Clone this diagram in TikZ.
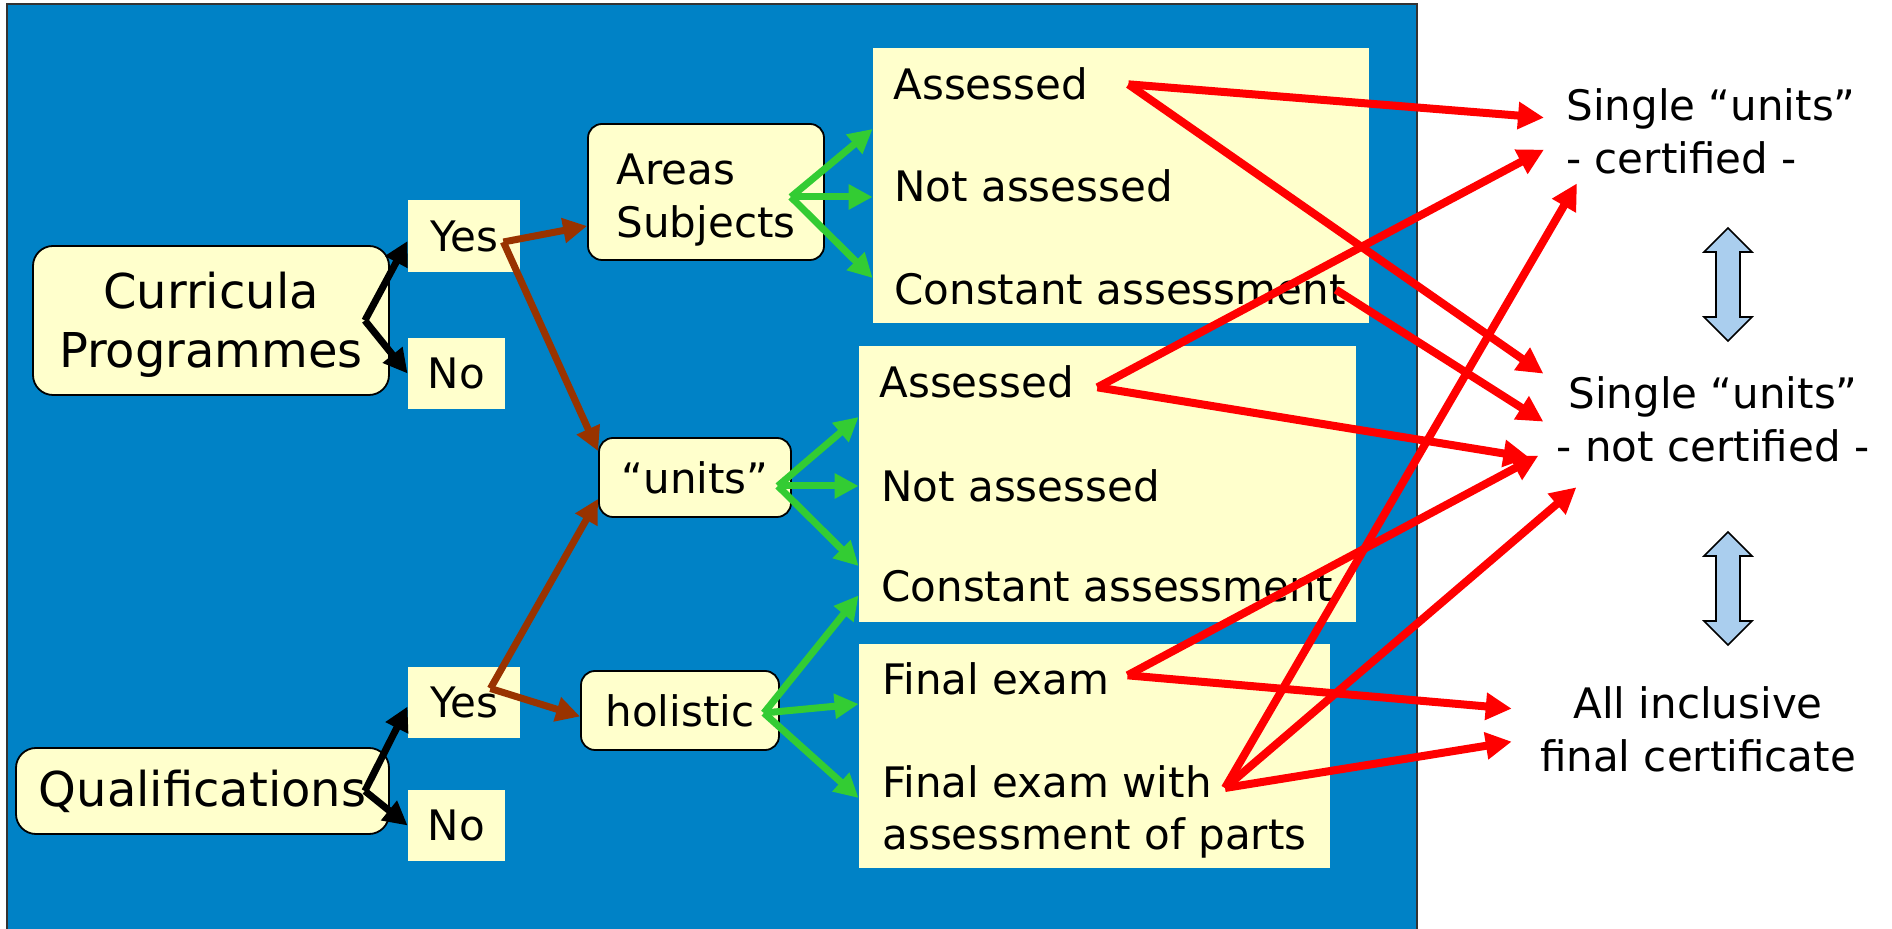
\documentclass[tikz,border=0pt]{standalone}
\usepackage{fontspec}
\setmainfont{DejaVu Sans}
\usepackage{tikz}
\usetikzlibrary{arrows.meta}
\definecolor{bgblue}{RGB}{0,130,198}
\definecolor{paleyellow}{RGB}{255,255,204}
\definecolor{arrgreen}{RGB}{51,204,51}
\definecolor{arrbrown}{RGB}{153,51,0}
\definecolor{arrblue}{RGB}{170,206,238}
\tikzstyle{line} = [draw, line width=3.5pt, -{Triangle[length=12pt,width=12pt]}]
\tikzstyle{redline} = [draw=red, line width=4pt, -{Triangle[length=13pt,width=13pt]}]
\tikzstyle{rbox} = [draw, rounded corners=7pt, fill=paleyellow, line width=0.9pt, inner sep=0pt, font=\fontsize{21}{26.5}\selectfont]
\tikzstyle{ans} = [fill=paleyellow, inner sep=0pt, minimum height=35.5pt, font=\fontsize{21}{26.5}\selectfont]
\tikzstyle{panel} = [fill=paleyellow, inner sep=0pt]
\tikzstyle{item} = [inner sep=0pt, anchor=base west, font=\fontsize{21}{26}\selectfont]
\tikzstyle{result} = [inner sep=0pt, font=\fontsize{21}{26.5}\selectfont]
\tikzstyle{dblarrow} = [draw, fill=arrblue, line width=0.8pt]

\begin{document}
\begin{tikzpicture}[x=0.5pt, y=-0.5pt]
	\useasboundingbox (0,0) rectangle (1892,929);
	% blue background
	\fill [bgblue] (7,4) rectangle (1417,929);
	\draw [black!80, line width=1pt] (7,929) -- (7,4) -- (1417,4) -- (1417,929);
	
	\node [rbox, rounded corners=10pt, minimum width=178pt, minimum height=74.5pt, align=center, font=\fontsize{24}{29.5}\selectfont] (curr) at (211,320.5) {\rule{0pt}{22pt}Curricula\\Programmes};
	\node [rbox, rounded corners=10pt, minimum width=186.5pt, minimum height=43pt, font=\fontsize{24}{28.5}\selectfont] (qual) at (202.5,791) {Qualifications};
	
	\node [ans, minimum width=56pt, minimum height=36pt] (yes1) at (464,236) {Yes};
	\node [ans, below of=yes1, node distance=68.75pt, xshift=-3.75pt, minimum width=48.5pt] (no1) {No};
	\node [ans, minimum width=56pt] (yes2) at (464,702.5) {Yes};
	\node [ans, below of=yes2, node distance=61.5pt, xshift=-3.75pt, minimum width=48.5pt] (no2) {No};
	
	\node [rbox, minimum width=118pt, minimum height=68pt, align=left] (areas) at (706,192) {\rule{0pt}{23pt}Areas\\Subjects};
	\node [rbox, minimum width=96pt, minimum height=39.5pt] (units) at (695,477.5) {“units”};
	\node [rbox, minimum width=99pt, minimum height=39.5pt] (holis) at (680,710.5) {holistic};
	
	% assessment panels
	\node [panel, minimum width=248pt, minimum height=137.5pt] (boxA) at (1121,185.5) {};
	\node [panel, minimum width=248.5pt, minimum height=138pt] (boxB) at (1107.5,484) {};
	\node [panel, minimum width=235.5pt, minimum height=112pt] (boxC) at (1094.5,756) {};
	
	\node [item] (a1) at (893,100) {Assessed};
	\node [item] (a2) at (894,202) {Not assessed};
	\node [item] (a3) at (894,305) {Constant assessment};
	\node [item] (b1) at (879,398) {Assessed};
	\node [item] (b2) at (881,502) {Not assessed};
	\node [item] (b3) at (881,602) {Constant assessment};
	\node [item] (c1) at (882,695) {Final exam};
	\node [item, anchor=north west, align=left] (c2) at (882,765) {Final exam with\\assessment of parts};
	
	\node [result, align=left, anchor=north west] (cert) at (1566,88) {Single “units”\\- certified -};
	\node [result, align=center, anchor=north] (ncert) at (1713,376) {Single “units”\\- not certified -};
	\node [result, align=center, anchor=north] (allinc) at (1698,686) {All inclusive\\final certificate};
	
	% yes / no
	\path [line] ([xshift=-12.5pt]curr.east) -- ([yshift=-2.5pt]yes1.west);
	\path [line] ([xshift=-12.5pt]curr.east) -- (no1.west);
	\path [line] ([xshift=-12.5pt]qual.east) -- ([yshift=-2pt]yes2.west);
	\path [line] ([xshift=-12.5pt]qual.east) -- (no2.west);
	
	\path [line, draw=arrbrown] ([xshift=-8.5pt,yshift=-3pt]yes1.east) -- ([yshift=-17pt]areas.west);
	\path [line, draw=arrbrown] ([xshift=-8.5pt,yshift=-3pt]yes1.east) -- ([yshift=-7pt]units.north west);
	\path [line, draw=arrbrown] ([xshift=-15pt,yshift=7pt]yes2.east) -- ([yshift=9.5pt]units.south west);
	\path [line, draw=arrbrown] ([xshift=-15pt,yshift=7pt]yes2.east) -- ([yshift=-3pt]holis.west);
	
	\path [line, draw=arrgreen] ([xshift=-17pt,yshift=-2.5pt]areas.east) -- ([yshift=28.25pt]boxA.west);
	\path [line, draw=arrgreen] ([xshift=-17pt,yshift=-2.5pt]areas.east) -- ([yshift=-5.75pt]boxA.west);
	\path [line, draw=arrgreen] ([xshift=-17pt,yshift=-2.5pt]areas.east) -- ([yshift=-46.25pt]boxA.west);
	\path [line, draw=arrgreen] ([xshift=-7pt,yshift=-4.25pt]units.east) -- ([yshift=33.5pt]boxB.west);
	\path [line, draw=arrgreen] ([xshift=-7pt,yshift=-4.25pt]units.east) -- ([yshift=-1pt]boxB.west);
	\path [line, draw=arrgreen] ([xshift=-7pt,yshift=-4.25pt]units.east) -- ([yshift=-41pt]boxB.west);
	\path [line, draw=arrgreen] ([xshift=-8pt,yshift=-1.25pt]holis.east) -- ([yshift=13.5pt]boxB.south west);
	\path [line, draw=arrgreen] ([xshift=-8pt,yshift=-1.25pt]holis.east) -- ([yshift=26pt]boxC.west);
	\path [line, draw=arrgreen] ([xshift=-8pt,yshift=-1.25pt]holis.east) -- ([yshift=-21pt]boxC.west);
	
	% to certificates
	\path [redline] ([xshift=20pt]a1.east) -- ([xshift=-11pt,yshift=6.75pt]cert.west);
	\path [redline] ([xshift=20pt]a1.east) -- ([xshift=-6.5pt,yshift=22.75pt]ncert.west);
	\path [redline] ([xshift=-5pt]a3.east) -- ([xshift=-6.5pt,yshift=-1.25pt]ncert.west);
	\path [redline] ([xshift=11.5pt,yshift=-2.5pt]b1.east) -- ([xshift=-11pt,yshift=-9.25pt]cert.west);
	\path [redline] ([xshift=11.5pt,yshift=-2.5pt]b1.east) -- ([xshift=-13.5pt,yshift=-19.25pt]ncert.west);
	\path [redline] ([xshift=9pt,yshift=2pt]c1.east) -- ([xshift=-9pt,yshift=-18.25pt]ncert.west);
	\path [redline] ([xshift=9pt,yshift=2pt]c1.east) -- ([xshift=-14pt,yshift=10.25pt]allinc.west);
	\path [redline] ([xshift=171.5pt,yshift=-11.5pt]c2.north west) -- ([xshift=5.5pt,yshift=-4.5pt]cert.south west);
	\path [redline] ([xshift=171.5pt,yshift=-11.5pt]c2.north west) -- ([xshift=10pt,yshift=-12.5pt]ncert.south west);
	\path [redline] ([xshift=171.5pt,yshift=-11.5pt]c2.north west) -- ([xshift=-14pt,yshift=-6.25pt]allinc.west);
	
	\draw [dblarrow] (1728,228) -- ++(24,24) -- ++(-12,0) -- ++(0,65) -- ++(12,0) -- ++(-24,24) -- ++(-24,-24) -- ++(12,0) -- ++(0,-65) -- ++(-12,0) -- cycle;
	\draw [dblarrow] (1728,532) -- ++(24,24) -- ++(-12,0) -- ++(0,65) -- ++(12,0) -- ++(-24,24) -- ++(-24,-24) -- ++(12,0) -- ++(0,-65) -- ++(-12,0) -- cycle;
\end{tikzpicture}
\end{document}
